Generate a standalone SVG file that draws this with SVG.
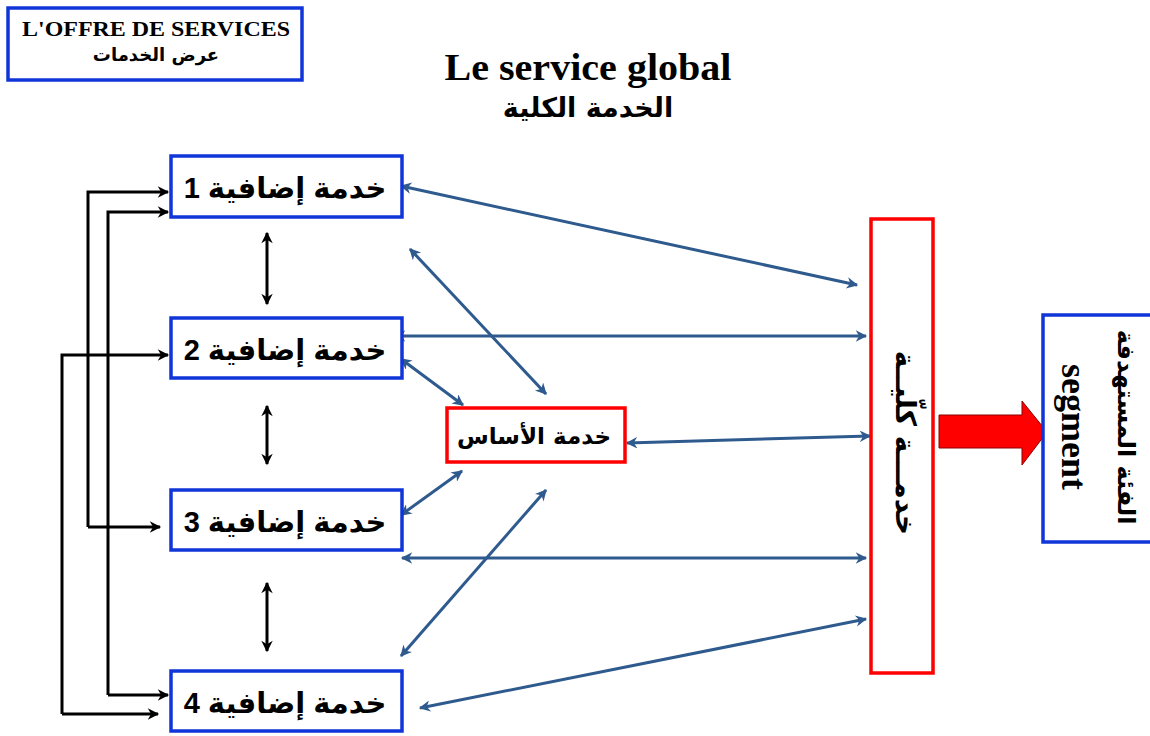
<svg xmlns="http://www.w3.org/2000/svg" width="1150" height="736" viewBox="0 0 1150 736">
<defs>
<marker id="ab" viewBox="0 0 10 10" refX="9" refY="5" markerWidth="4.6" markerHeight="3.8" orient="auto-start-reverse" markerUnits="strokeWidth"><path d="M0,0 L10,5 L0,10 L3,5 z" fill="#2E5A8E"/></marker>
<marker id="ak" viewBox="0 0 10 10" refX="9" refY="5" markerWidth="4.6" markerHeight="3.8" orient="auto-start-reverse" markerUnits="strokeWidth"><path d="M0,0 L10,5 L0,10 L3,5 z" fill="#000"/></marker>
</defs>
<style>
.bb{fill:#fff;stroke:#1035D8;stroke-width:3.5}
.rb{fill:#fff;stroke:#FF0000;stroke-width:3.5}
.bl{fill:none;stroke:#2E5A8E;stroke-width:3;marker-start:url(#ab);marker-end:url(#ab)}
.bk{fill:none;stroke:#000;stroke-width:3;marker-end:url(#ak)}
.bk2{fill:none;stroke:#000;stroke-width:3;marker-start:url(#ak);marker-end:url(#ak)}
.ar{font-family:"DejaVu Sans","Liberation Sans",sans-serif;font-weight:bold;fill:#000}
.lbl{font-family:"Liberation Sans","DejaVu Sans",sans-serif;font-weight:bold;font-size:29px;fill:#000}
.tm{font-family:"Liberation Serif","DejaVu Serif",serif;font-weight:bold;fill:#000}
</style>
<rect width="1150" height="736" fill="#fff"/>

<g id="offre">
<rect x="8" y="8" width="294" height="72" class="bb"/>
<text x="156" y="36" class="tm" font-size="22" text-anchor="middle" textLength="268" lengthAdjust="spacingAndGlyphs">L'OFFRE DE SERVICES</text>
<text x="156" y="61" class="ar" font-size="18" text-anchor="middle" direction="rtl">عرض الخدمات</text>
</g>

<g id="title">
<text x="588" y="80" class="tm" font-size="38" text-anchor="middle" textLength="287" lengthAdjust="spacingAndGlyphs">Le service global</text>
<text x="588" y="117" class="ar" font-size="27" text-anchor="middle" direction="rtl">الخدمة الكلية</text>
</g>

<g id="connectors">
<path class="bk" d="M88,527 V192 H168"/>
<path class="bk" d="M88,527 H160"/>
<path class="bk" d="M108,695 V212 H168"/>
<path class="bk" d="M108,695 H168"/>
<path class="bk" d="M62,714 V355 H168"/>
<path class="bk" d="M62,714 H158"/>
<line class="bk2" x1="267" y1="233" x2="267" y2="304"/>
<line class="bk2" x1="267" y1="406" x2="267" y2="464"/>
<line class="bk2" x1="267" y1="583" x2="267" y2="651"/>
<line class="bl" x1="401" y1="186" x2="857" y2="285"/>
<line class="bl" x1="410" y1="249" x2="546" y2="394"/>
<line class="bl" x1="395" y1="336" x2="866" y2="336"/>
<line class="bl" x1="401" y1="359" x2="463" y2="405"/>
<line class="bl" x1="627" y1="443" x2="870" y2="436"/>
<line class="bl" x1="462" y1="471" x2="401" y2="515"/>
<line class="bl" x1="402" y1="558" x2="866" y2="558"/>
<line class="bl" x1="546" y1="490" x2="401" y2="656"/>
<line class="bl" x1="420" y1="708" x2="866" y2="619"/>
</g>

<g id="s1">
<rect x="171" y="156" width="231" height="61" class="bb"/>
<text x="285" y="198" class="lbl" text-anchor="middle" direction="rtl">خدمة إضافية 1</text>
</g>
<g id="s2">
<rect x="171" y="318" width="231" height="60" class="bb"/>
<text x="285" y="360" class="lbl" text-anchor="middle" direction="rtl">خدمة إضافية 2</text>
</g>
<g id="s3">
<rect x="171" y="490" width="231" height="60" class="bb"/>
<text x="285" y="532" class="lbl" text-anchor="middle" direction="rtl">خدمة إضافية 3</text>
</g>
<g id="s4">
<rect x="171" y="671" width="231" height="60" class="bb"/>
<text x="285" y="713" class="lbl" text-anchor="middle" direction="rtl">خدمة إضافية 4</text>
</g>

<g id="base">
<rect x="447" y="408" width="178" height="54" class="rb"/>
<text x="534" y="444" class="ar" font-size="23" text-anchor="middle" direction="rtl">خدمة الأساس</text>
</g>

<g id="global">
<rect x="871" y="219" width="62" height="454" class="rb"/>
<text transform="translate(896,443) rotate(90)" class="ar" font-size="28" text-anchor="middle" direction="rtl">خدمـــة كلّيــة</text>
</g>

<g id="bigarrow">
<polygon points="939,415 1022,415 1022,401 1047,432 1022,465 1022,448 939,448" fill="#FF0000" stroke="#8B0000" stroke-width="1"/>
</g>

<g id="segment">
<rect x="1043" y="315" width="112" height="227" class="bb"/>
<text transform="translate(1062,427) rotate(90)" class="tm" font-size="36" text-anchor="middle">segment</text>
<text transform="translate(1118,427) rotate(90)" class="ar" font-size="24" text-anchor="middle" direction="rtl">الفئة المستهدفة</text>
</g>
</svg>
